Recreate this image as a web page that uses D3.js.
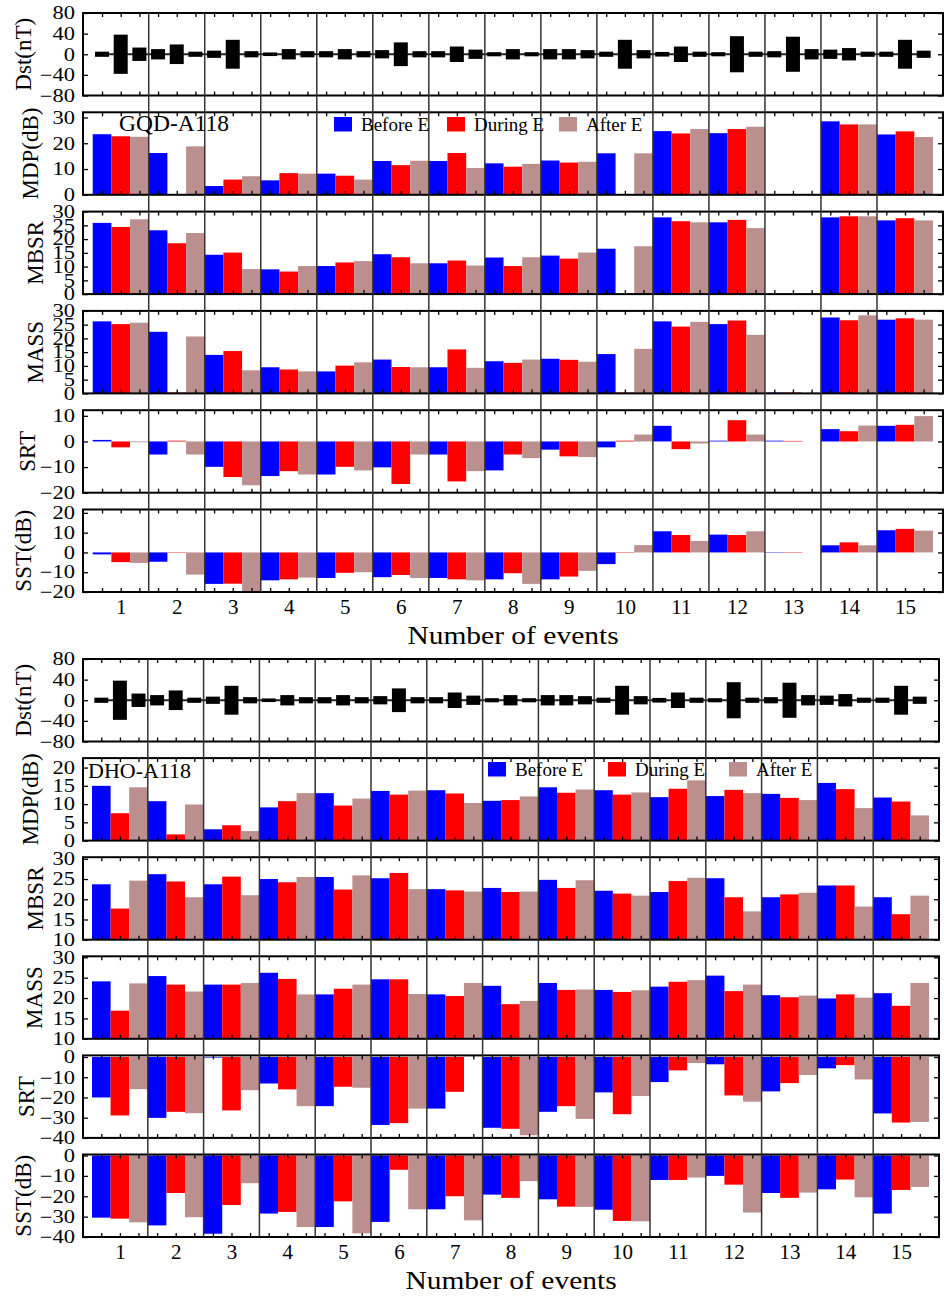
<!DOCTYPE html>
<html>
<head>
<meta charset="utf-8">
<script src="https://cdn.jsdelivr.net/npm/d3@7"></script>
<style>
body { margin: 0; background: #fff; }
text { font-family: "Liberation Serif", "Times New Roman", serif; fill: #000; }
</style>
</head>
<body>
<script>
// events and periods
var events = d3.range(1, 16);
var periods = ["Before E", "During E", "After E"];
var colors = ["#0000ff", "#ff0000", "#bc8f8f"];

// Dst half range (nT), same storms for both stations
var dstBefore = [5, 10, 7, 3.5, 6, 8, 6, 4, 10, 5, 4.5, 4, 6, 9, 5];
var dstDuring = [38, 19, 28, 10, 10, 23, 15, 10, 10, 28, 15, 35, 34, 12, 28];
var dstAfter  = [13, 5, 6, 6, 6, 6, 9, 4, 8, 8, 5, 5, 10, 5, 7];

// GQD-A118
var gqdMdpBefore  = [23.5, 16.2, 3.4, 5.6, 8.2, 13.1, 13.1, 12.2, 13.3, 16.1, 24.7, 23.9, 0.3, 28.5, 23.4];
var gqdMdpDuring  = [22.7, 0.3, 5.9, 8.4, 7.4, 11.5, 16.2, 10.9, 12.5, 0.3, 23.8, 25.5, 0.3, 27.3, 24.6];
var gqdMdpAfter   = [22.5, 18.8, 7.2, 8.2, 5.9, 13.2, 10.4, 12.0, 12.8, 16.1, 25.5, 26.4, 0, 27.3, 22.4];
var gqdMbsrBefore = [25.9, 23.2, 14.3, 9.0, 10.2, 14.5, 11.2, 13.3, 14.0, 16.5, 27.9, 26.1, 0, 27.9, 26.8];
var gqdMbsrDuring = [24.4, 18.5, 15.1, 8.2, 11.5, 13.4, 12.2, 10.2, 12.9, 0, 26.5, 27.0, 0, 28.3, 27.6];
var gqdMbsrAfter  = [27.2, 22.2, 9.1, 10.2, 12.0, 11.2, 10.4, 13.4, 15.1, 17.4, 26.1, 24.0, 0, 28.3, 26.8];
var gqdMassBefore = [26.2, 22.4, 14.0, 9.5, 8.0, 12.3, 9.5, 11.7, 12.6, 14.3, 26.2, 25.2, 0.3, 27.6, 26.8];
var gqdMassDuring = [25.2, 0.3, 15.4, 8.7, 10.1, 9.6, 16.0, 11.1, 12.2, 0.3, 24.3, 26.5, 0.3, 26.6, 27.3];
var gqdMassAfter  = [25.7, 20.7, 8.4, 8.0, 11.3, 9.5, 9.3, 12.3, 11.5, 16.2, 26.0, 21.3, 0, 28.4, 26.8];
var gqdSrtBefore  = [0.6, -5.1, -9.9, -13.5, -12.9, -10.1, -5.1, -11.3, -3.2, -2.3, 6.1, 0.3, 0.3, 4.8, 6.1];
var gqdSrtDuring  = [-2.3, 0.3, -13.9, -11.6, -9.9, -16.6, -15.6, -5.1, -5.8, 0.3, -3.0, 8.3, 0.2, 4.0, 6.5];
var gqdSrtAfter   = [-0.3, -5.1, -17.1, -12.9, -11.3, -5.1, -11.6, -6.5, -6.1, 2.7, -0.8, 2.7, 0, 6.2, 9.9];
var gqdSstBefore  = [-1.0, -4.7, -15.9, -14.1, -12.9, -12.5, -12.9, -13.6, -13.6, -5.9, 10.7, 9.0, 0.2, 3.6, 11.2];
var gqdSstDuring  = [-4.9, 0.2, -15.8, -13.6, -10.3, -11.4, -13.6, -10.5, -12.2, 0.2, 8.8, 8.8, 0.2, 5.1, 11.9];
var gqdSstAfter   = [-5.3, -11.2, -21, -12.7, -10.0, -12.9, -14.1, -15.9, -9.3, 3.7, 5.8, 10.7, 0, 3.6, 11.0];

// DHO-A118
var dhoMdpBefore  = [15.0, 10.8, 3.1, 9.1, 13.0, 13.6, 13.8, 10.9, 14.6, 13.8, 11.9, 12.2, 12.8, 15.8, 11.8];
var dhoMdpDuring  = [7.5, 1.7, 4.2, 10.8, 9.6, 12.6, 12.9, 11.1, 13.1, 12.6, 14.2, 13.9, 11.7, 14.1, 10.7];
var dhoMdpAfter   = [14.6, 9.9, 2.6, 13.0, 11.5, 13.7, 10.3, 12.1, 14.0, 13.2, 16.5, 13.0, 11.1, 8.9, 6.9];
var dhoMbsrBefore = [23.7, 26.2, 23.7, 25.0, 25.5, 25.2, 22.5, 22.8, 24.8, 22.1, 21.8, 25.2, 20.5, 23.4, 20.5];
var dhoMbsrDuring = [17.7, 24.4, 25.6, 24.2, 22.4, 26.5, 22.2, 21.8, 22.8, 21.4, 24.5, 20.5, 21.2, 23.4, 16.3];
var dhoMbsrAfter  = [24.6, 20.5, 21.0, 25.5, 25.9, 22.5, 21.9, 21.9, 24.7, 20.9, 25.3, 17.0, 21.6, 18.2, 20.9];
var dhoMassBefore = [24.1, 25.4, 23.3, 26.2, 20.9, 24.6, 20.9, 23.0, 23.7, 22.0, 22.8, 25.5, 20.7, 19.9, 21.2];
var dhoMassDuring = [16.9, 23.3, 23.3, 24.7, 22.3, 24.6, 20.5, 18.5, 22.0, 21.5, 24.0, 21.7, 20.2, 20.9, 18.1];
var dhoMassAfter  = [23.6, 21.6, 23.7, 20.9, 23.3, 21.0, 23.7, 19.3, 22.1, 21.9, 24.4, 23.3, 20.6, 20.1, 23.7];
var dhoSrtBefore  = [-20.0, -30.1, -0.3, -13.1, -24.3, -33.6, -25.5, -35.0, -27.1, -17.5, -12.4, -3.6, -17.0, -5.6, -27.9];
var dhoSrtDuring  = [-28.9, -27.1, -26.4, -16.0, -14.7, -32.7, -17.2, -35.5, -24.3, -28.3, -6.6, -19.0, -12.9, -4.0, -32.4];
var dhoSrtAfter   = [-15.9, -27.8, -16.4, -24.3, -15.2, -25.5, 0, -38.7, -30.6, -19.3, -3.0, -22.1, -8.9, -11.1, -32.1];
var dhoSstBefore  = [-30.5, -34.3, -38.4, -28.5, -35.1, -32.6, -26.4, -19.2, -21.5, -26.6, -12.0, -10.0, -18.4, -16.6, -28.5];
var dhoSstDuring  = [-31.0, -18.4, -24.3, -27.7, -22.5, -7.0, -20.0, -20.8, -25.1, -32.1, -12.0, -14.3, -20.8, -11.8, -16.9];
var dhoSstAfter   = [-32.8, -30.3, -13.6, -35.1, -38.2, -26.4, -31.8, -12.6, -25.2, -32.3, -10.8, -28.0, -18.2, -20.5, -15.4];

// tick labels
var dstTicks = [-80, -40, 0, 40, 80];
var gqdMdpTicks = [0, 10, 20, 30];
var gqdMbsrTicks = [0, 5, 10, 15, 20, 25, 30];
var gqdSrtTicks = [-20, -10, 0, 10];
var gqdSstTicks = [-20, -10, 0, 10, 20];
var dhoMdpTicks = [0, 5, 10, 15, 20];
var dhoMbsrTicks = [10, 15, 20, 25, 30];
var dhoSrtTicks = [-40, -30, -20, -10, 0];

var W = 944, H = 1297, PH = 82.5;

var stations = [
	{ name: "GQD-A118", top: 13, pitch: 99.3, x0: 83, x1: 943, r0: 92.7, r1: 933,
	  nameX: 119, nameY: 131, nameSize: 23.5, legX: [334, 447, 559], legY: 117,
	  panels: [
		{ label: "Dst(nT)", tx: 23, domain: [-80, 80], ticks: dstTicks, minor: 20, dst: [dstBefore, dstDuring, dstAfter] },
		{ label: "MDP(dB)", tx: 30, domain: [0, 32], ticks: gqdMdpTicks, minor: 5, vals: [gqdMdpBefore, gqdMdpDuring, gqdMdpAfter] },
		{ label: "MBSR", tx: 35, domain: [0, 30], ticks: gqdMbsrTicks, minor: 2.5, vals: [gqdMbsrBefore, gqdMbsrDuring, gqdMbsrAfter] },
		{ label: "MASS", tx: 35, domain: [0, 30], ticks: gqdMbsrTicks, minor: 2.5, vals: [gqdMassBefore, gqdMassDuring, gqdMassAfter] },
		{ label: "SRT", tx: 27, domain: [-20, 12.2], ticks: gqdSrtTicks, minor: 5, vals: [gqdSrtBefore, gqdSrtDuring, gqdSrtAfter] },
		{ label: "SST(dB)", tx: 23, domain: [-20, 21.7], ticks: gqdSstTicks, minor: 5, vals: [gqdSstBefore, gqdSstDuring, gqdSstAfter] }
	]},
	{ name: "DHO-A118", top: 659, pitch: 99.1, x0: 83, x1: 939, r0: 92, r1: 929,
	  nameX: 88, nameY: 778, nameSize: 22, legX: [488, 608, 729], legY: 762,
	  panels: [
		{ label: "Dst(nT)", tx: 23, domain: [-80, 80], ticks: dstTicks, minor: 20, dst: [dstBefore, dstDuring, dstAfter] },
		{ label: "MDP(dB)", tx: 30, domain: [0, 22.6], ticks: dhoMdpTicks, minor: 2.5, vals: [dhoMdpBefore, dhoMdpDuring, dhoMdpAfter] },
		{ label: "MBSR", tx: 35, domain: [10, 30.4], ticks: dhoMbsrTicks, minor: 2.5, vals: [dhoMbsrBefore, dhoMbsrDuring, dhoMbsrAfter] },
		{ label: "MASS", tx: 34, domain: [10, 30.25], ticks: dhoMbsrTicks, minor: 2.5, vals: [dhoMassBefore, dhoMassDuring, dhoMassAfter] },
		{ label: "SRT", tx: 26, domain: [-40, 0.8], ticks: dhoSrtTicks, minor: 5, vals: [dhoSrtBefore, dhoSrtDuring, dhoSrtAfter] },
		{ label: "SST(dB)", tx: 23, domain: [-40, 0.5], ticks: dhoSrtTicks, minor: 5, vals: [dhoSstBefore, dhoSstDuring, dhoSstAfter] }
	]}
];

var svg = d3.select("body").append("svg")
	.attr("width", W)
	.attr("height", H);

var clipId = 0;

function minorTicks(domain, step) {
	var lo = Math.ceil(domain[0] / step) * step, out = [];
	for (var v = lo; v <= domain[1] + 1e-9; v += step) out.push(v);
	return out;
}

function drawPanel(st, p, i, x) {
	var top = st.top + i * st.pitch, bot = top + PH;
	var y = d3.scaleLinear().domain(p.domain).range([bot, top]);
	var g = svg.append("g");

	var id = "clip" + (clipId++);
	g.append("clipPath").attr("id", id)
		.append("rect")
			.attr("x", st.x0).attr("y", top)
			.attr("width", st.x1 - st.x0).attr("height", PH);
	var plot = g.append("g").attr("clip-path", "url(#" + id + ")");

	if (p.dst) {
		plot.append("line")
			.attr("x1", x(2 / 3)).attr("x2", x(15 + 1 / 3))
			.attr("y1", y(0)).attr("y2", y(0))
			.attr("stroke", "#222")
			.attr("stroke-width", 2);
		p.dst.forEach(function (arr, k) {
			plot.selectAll(null)
				.data(arr)
				.enter().append("rect")
					.attr("x", function (d, j) { return x(j + 1 - 1 / 3 + k / 3 - 0.125); })
					.attr("width", x(0.25) - x(0))
					.attr("y", function (d) { return y(d); })
					.attr("height", function (d) { return y(-d) - y(d); })
					.attr("fill", "#000");
		});
	} else {
		var base = y(Math.max(p.domain[0], 0));
		p.vals.forEach(function (arr, k) {
			plot.selectAll(null)
				.data(arr)
				.enter().append("rect")
					.attr("x", function (d, j) { return x(j + 0.5 + k / 3); })
					.attr("width", x(1 / 3) - x(0))
					.attr("y", function (d) { return Math.min(y(d), base); })
					.attr("height", function (d) { return Math.abs(base - y(d)); })
					.attr("fill", colors[k]);
		});
	}

	// ticks, all inward
	var minors = minorTicks(p.domain, p.minor);
	var left = g.append("g").attr("transform", "translate(" + st.x0 + ",0)");
	left.call(d3.axisLeft(y).tickValues(minors).tickSize(-3).tickFormat(""));
	left.call(d3.axisLeft(y).tickValues(p.ticks).tickSize(-5).tickPadding(8));
	var right = g.append("g").attr("transform", "translate(" + st.x1 + ",0)");
	right.call(d3.axisRight(y).tickValues(minors).tickSize(-3).tickFormat(""));
	right.call(d3.axisRight(y).tickValues(p.ticks).tickSize(-5).tickFormat(""));

	var centers = [];
	events.forEach(function (e) { centers.push(e - 1 / 3, e, e + 1 / 3); });
	g.append("g").attr("transform", "translate(0," + bot + ")")
		.call(d3.axisBottom(x).tickValues(centers).tickSize(-4).tickFormat(""));
	g.append("g").attr("transform", "translate(0," + top + ")")
		.call(d3.axisTop(x).tickValues(centers).tickSize(-4).tickFormat(""));

	g.selectAll(".domain").remove();
	g.selectAll(".tick line").attr("stroke", "#000").attr("stroke-width", 1.3);
	left.selectAll(".tick text")
		.attr("font-size", 18)
		.attr("font-family", "Liberation Serif")
		.attr("x", -6.5)
		.attr("transform", "scale(1.25,1)");

	g.append("rect")
		.attr("x", st.x0).attr("y", top)
		.attr("width", st.x1 - st.x0).attr("height", PH)
		.attr("fill", "none")
		.attr("stroke", "#000")
		.attr("stroke-width", 2);

	g.append("text")
		.attr("transform", "translate(" + p.tx + "," + (top + PH / 2) + ") rotate(-90)")
		.attr("text-anchor", "middle")
		.attr("dominant-baseline", "central")
		.attr("font-size", 23)
		.text(p.label);

	return bot;
}

stations.forEach(function (st) {
	var x = d3.scaleLinear().domain([0.5, 15.5]).range([st.r0, st.r1]);
	var bot = 0;
	st.panels.forEach(function (p, i) { bot = drawPanel(st, p, i, x); });

	// event separators through all panels
	svg.append("g")
		.selectAll("line")
		.data(events.slice(0, 14))
		.enter().append("line")
			.attr("x1", function (e) { return x(e + 0.5); })
			.attr("x2", function (e) { return x(e + 0.5); })
			.attr("y1", st.top)
			.attr("y2", bot)
			.attr("stroke", "#333")
			.attr("stroke-width", 1.5);

	var xa = svg.append("g")
		.attr("transform", "translate(0," + bot + ")")
		.call(d3.axisBottom(x).tickValues(events).tickSize(0).tickPadding(7));
	xa.select(".domain").remove();
	xa.selectAll("text")
		.attr("font-size", 21)
		.attr("font-family", "Liberation Serif");

	svg.append("text")
		.attr("transform", "translate(" + ((st.x0 + st.x1) / 2) + "," + (bot + 52) + ") scale(1.18,1)")
		.attr("text-anchor", "middle")
		.attr("font-size", 25)
		.text("Number of events");

	svg.append("text")
		.attr("x", st.nameX)
		.attr("y", st.nameY)
		.attr("font-size", st.nameSize)
		.text(st.name);

	var leg = svg.append("g")
		.selectAll("g")
		.data(periods)
		.enter().append("g")
			.attr("transform", function (d, k) { return "translate(" + st.legX[k] + "," + st.legY + ")"; });
	leg.append("rect")
		.attr("width", 18)
		.attr("height", 14.5)
		.attr("fill", function (d, k) { return colors[k]; });
	leg.append("text")
		.attr("x", 27)
		.attr("y", 14)
		.attr("font-size", 19)
		.text(function (d) { return d; });
});
</script>
</body>
</html>
